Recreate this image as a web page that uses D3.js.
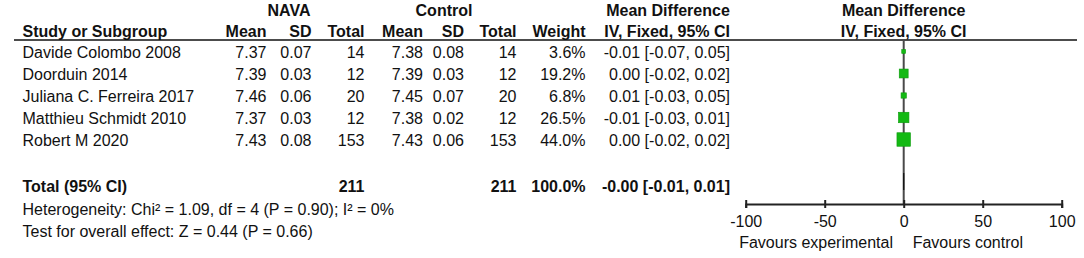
<!DOCTYPE html>
<html>
<head>
<meta charset="utf-8">
<script src="https://cdn.jsdelivr.net/npm/d3@7"></script>
<style>
  body { margin: 0; background: #fff; }
  svg { display: block; font-family: "Liberation Sans", Arial, sans-serif; }
  text { fill: #111; font-size: 16px; }
</style>
</head>
<body>
<script>
// study rows
const studies = ["Davide Colombo 2008", "Doorduin 2014", "Juliana C. Ferreira 2017", "Matthieu Schmidt 2010", "Robert M 2020"];
const navaMean = [7.37, 7.39, 7.46, 7.37, 7.43];
const navaSD = [0.07, 0.03, 0.06, 0.03, 0.08];
const navaN = [14, 12, 20, 12, 153];
const ctrlMean = [7.38, 7.39, 7.45, 7.38, 7.43];
const ctrlSD = [0.08, 0.03, 0.07, 0.02, 0.06];
const ctrlN = [14, 12, 20, 12, 153];
const weight = [3.6, 19.2, 6.8, 26.5, 44.0];
const md = [-0.01, 0.00, 0.01, -0.01, 0.00];
const ciLow = [-0.07, -0.02, -0.03, -0.03, -0.02];
const ciHigh = [0.05, 0.02, 0.05, 0.01, 0.02];

// pooled
const totalMd = "-0.00", totalLow = -0.01, totalHigh = 0.01;
const totalNava = 211, totalCtrl = 211, totalWeight = 100.0;
const heterogeneity = "Heterogeneity: Chi² = 1.09, df = 4 (P = 0.90); I² = 0%";
const overall = "Test for overall effect: Z = 0.44 (P = 0.66)";

const axisTicks = [-100, -50, 0, 50, 100];

const width = 1084, height = 258;

const svg = d3.select("body").append("svg")
    .attr("width", width)
    .attr("height", height);

// column right edges
const col = { study: 22.5, nMean: 266.5, nSD: 311.5, nN: 364.5, cMean: 423, cSD: 464, cN: 516.5, w: 585.5, ci: 730 };

const rowY = d3.scaleLinear().domain([0, 4]).range([51.5, 139.5]);
const x = d3.scaleLinear().domain([-100, 100]).range([745.7, 1061.7]);
const size = d3.scaleSqrt().domain([0, 44]).range([0, 13.5]);

// plain hyphen minus, as in the original
const f2 = v => v.toFixed(2);
const ciText = (m, lo, hi) => m + " [" + f2(lo) + ", " + f2(hi) + "]";

function txt(xp, yp, s, anchor, bold) {
    svg.append("text")
        .attr("x", xp).attr("y", yp)
        .attr("text-anchor", anchor)
        .style("font-weight", bold ? "bold" : "normal")
        .text(s);
}

// headers
txt(289, 15.5, "NAVA", "middle", true);
txt(444, 15.5, "Control", "middle", true);
txt(668, 15.5, "Mean Difference", "middle", true);
txt(903.7, 15.5, "Mean Difference", "middle", true);

const hy = 37;
txt(col.study, hy, "Study or Subgroup", "start", true);
txt(col.nMean, hy, "Mean", "end", true);
txt(col.nSD, hy, "SD", "end", true);
txt(col.nN, hy, "Total", "end", true);
txt(col.cMean, hy, "Mean", "end", true);
txt(col.cSD, hy, "SD", "end", true);
txt(col.cN, hy, "Total", "end", true);
txt(col.w, hy, "Weight", "end", true);
txt(col.ci, hy, "IV, Fixed, 95% CI", "end", true);
txt(903.7, hy, "IV, Fixed, 95% CI", "middle", true);

svg.append("line")
    .attr("x1", 14).attr("x2", 1077)
    .attr("y1", 40).attr("y2", 40)
    .attr("stroke", "#111")
    .attr("stroke-width", 1.5);

// study rows
const rows = svg.append("g").selectAll("g")
    .data(studies)
    .join("g")
    .attr("transform", (d, i) => `translate(0,${rowY(i) + 6})`);

const cells = [
    [col.study, "start", (d, i) => d],
    [col.nMean, "end", (d, i) => f2(navaMean[i])],
    [col.nSD, "end", (d, i) => f2(navaSD[i])],
    [col.nN, "end", (d, i) => navaN[i]],
    [col.cMean, "end", (d, i) => f2(ctrlMean[i])],
    [col.cSD, "end", (d, i) => f2(ctrlSD[i])],
    [col.cN, "end", (d, i) => ctrlN[i]],
    [col.w, "end", (d, i) => weight[i].toFixed(1) + "%"],
    [col.ci, "end", (d, i) => ciText(f2(md[i]), ciLow[i], ciHigh[i])]
];
cells.forEach(c => {
    rows.append("text")
        .attr("x", c[0])
        .attr("text-anchor", c[1])
        .text(c[2]);
});

// total row
const ty = 191.5;
txt(col.study, ty, "Total (95% CI)", "start", true);
txt(col.nN, ty, totalNava, "end", true);
txt(col.cN, ty, totalCtrl, "end", true);
txt(col.w, ty, totalWeight.toFixed(1) + "%", "end", true);
txt(col.ci, ty, ciText(totalMd, totalLow, totalHigh), "end", true);
txt(col.study, 214.5, heterogeneity, "start", false);
txt(col.study, 236.5, overall, "start", false);

// line of no effect
svg.append("line")
    .attr("x1", x(0)).attr("x2", x(0))
    .attr("y1", 40).attr("y2", 204)
    .attr("stroke", "#4a4a4a")
    .attr("stroke-width", 2);

// CI whiskers (tiny at this scale) and squares
svg.append("g").selectAll("line")
    .data(studies)
    .join("line")
    .attr("x1", (d, i) => x(ciLow[i]))
    .attr("x2", (d, i) => x(ciHigh[i]))
    .attr("y1", (d, i) => rowY(i))
    .attr("y2", (d, i) => rowY(i))
    .attr("stroke", "#111");

svg.append("g").selectAll("rect")
    .data(studies)
    .join("rect")
    .attr("x", (d, i) => x(md[i]) - size(weight[i]) / 2)
    .attr("y", (d, i) => rowY(i) - size(weight[i]) / 2)
    .attr("width", (d, i) => size(weight[i]))
    .attr("height", (d, i) => size(weight[i]))
    .attr("fill", "#13b913")
    .attr("stroke", "#0c9c0c")
    .attr("stroke-width", 0.6);

// pooled diamond
const dy = 181.5;
const mdVal = +totalMd;
svg.append("path")
    .attr("d", `M${x(totalLow)},${dy} L${x(mdVal)},${dy - 8.5} L${x(totalHigh)},${dy} L${x(mdVal)},${dy + 8.5} Z`)
    .attr("fill", "#111")
    .attr("stroke", "#111")
    .attr("stroke-width", 1.2);

// axis
const axis = svg.append("g")
    .attr("transform", "translate(0,204)")
    .call(d3.axisBottom(x)
        .tickValues(axisTicks)
        .tickFormat(d => String(d))
        .tickSizeOuter(0)
        .tickSize(4)
        .tickPadding(0));

axis.select(".domain").attr("stroke", "#222").attr("stroke-width", 2);
axis.selectAll(".tick line").attr("y1", -4).attr("y2", 4).attr("stroke", "#222").attr("stroke-width", 2);
axis.selectAll(".tick text")
    .attr("y", 23)
    .attr("dy", null)
    .style("font-size", "16px")
    .style("font-family", "'Liberation Sans', Arial, sans-serif")
    .attr("fill", "#111");

txt(893, 248, "Favours experimental", "end", false);
txt(912.7, 248, "Favours control", "start", false);
</script>
</body>
</html>
